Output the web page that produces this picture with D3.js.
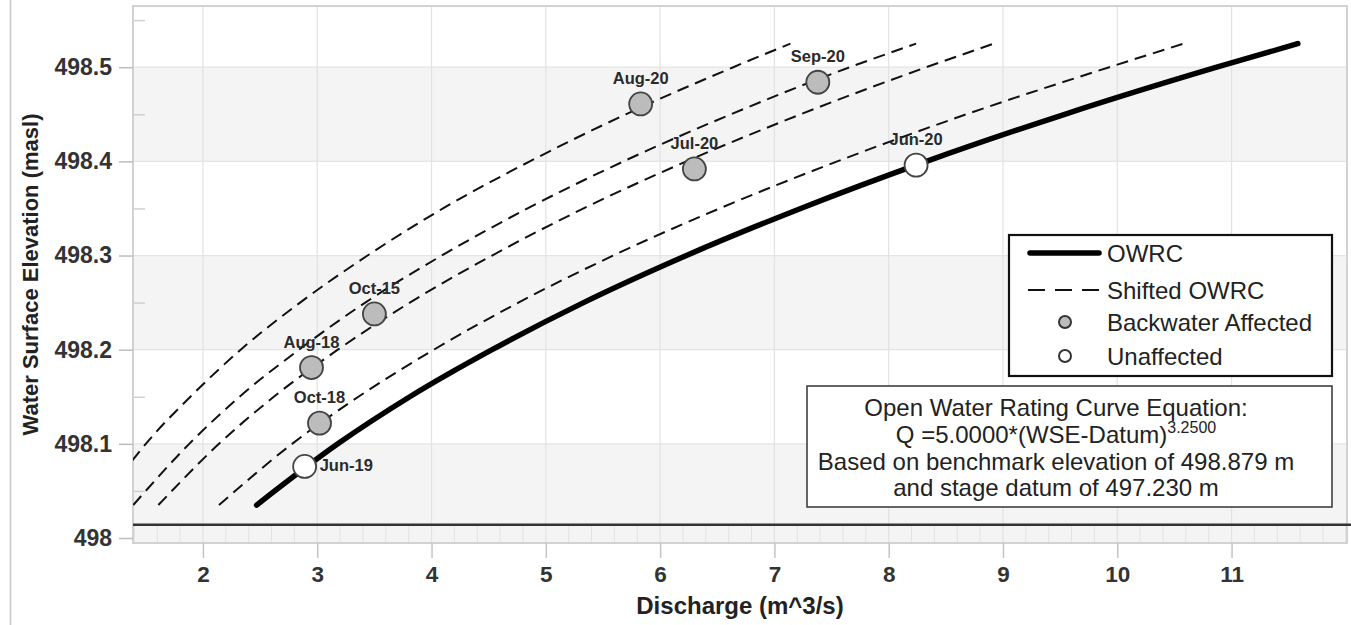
<!DOCTYPE html>
<html><head><meta charset="utf-8">
<script src="https://cdn.jsdelivr.net/npm/d3@7/dist/d3.min.js"></script>
<style>
html,body{margin:0;padding:0;background:#fff;}
svg{display:block;font-family:"Liberation Sans",Arial,sans-serif;}
</style></head>
<body><svg id="c" width="1351" height="625"></svg>
<script>
// ---- data ----
const xTicks = [2,3,4,5,6,7,8,9,10,11];
const yTicks = [498,498.1,498.2,498.3,498.4,498.5];
const yMinorTicks = [498.05,498.15,498.25,498.35,498.45,498.55];
const bandStarts = [498.0,498.2,498.4];           // grey bands 0.1 high
const baseLineWSE = 498.014;                        // dark horizontal line

const owrcWSE = [498.035,498.10,498.15,498.20,498.25,498.30,498.35,498.40,498.45,498.50,498.525];
const owrcQ   = [2.47,3.18,3.81,4.53,5.33,6.23,7.23,8.33,9.54,10.87,11.58];

const shiftWSE = [498.035,498.10,498.15,498.20,498.25,498.30,498.35,498.40,498.45,498.50,498.525];
const shiftBQ  = [1.39,1.88,2.32,2.84,3.42,4.09,4.84,5.68,6.62,7.66,8.24];
const shiftCQ  = [1.61,2.14,2.62,3.18,3.81,4.53,5.33,6.23,7.23,8.33,8.92];
const shiftDQ  = [2.14,2.78,3.36,4.02,4.76,5.59,6.52,7.55,8.68,9.93,10.58];
const shiftAWSE = [498.082,498.10,498.15,498.20,498.25,498.30,498.35,498.40,498.45,498.50,498.525];
const shiftAQ   = [1.38,1.50,1.89,2.33,2.85,3.44,4.10,4.86,5.70,6.64,7.14];

const pointLabels = ["Aug-20","Sep-20","Jul-20","Jun-20","Oct-15","Aug-18","Oct-18","Jun-19"];
const pointQ      = [5.83,7.38,6.30,8.24,3.50,2.95,3.02,2.89];
const pointWSE    = [498.461,498.484,498.392,498.396,498.238,498.181,498.122,498.076];
const pointType   = ["Backwater Affected","Backwater Affected","Backwater Affected","Unaffected","Backwater Affected","Backwater Affected","Backwater Affected","Unaffected"];
const labelSide   = ["top","top","top","top","top","top","top","right"];

const legendItems = ["OWRC","Shifted OWRC","Backwater Affected","Unaffected"];
const eqLines = ["Open Water Rating Curve Equation:","Q =5.0000*(WSE-Datum)","Based on benchmark elevation of 498.879 m","and stage datum of 497.230 m"];
const eqExponent = "3.2500";

// ---- layout ----
const L=133, R=1347, T=6, B=543;
const svg = d3.select("#c");
const x = d3.scaleLinear().domain([1.388,12.01]).range([L,R]);
const y = d3.scaleLinear().domain([497.9947,498.565]).range([B,T]);
const FONT = '"Liberation Sans",Arial,sans-serif';

svg.append("rect").attr("width",1351).attr("height",625).attr("fill","#fff");
svg.append("line").attr("x1",10.5).attr("x2",10.5).attr("y1",0).attr("y2",625).attr("stroke","#c8c8c8").attr("stroke-width",1.5);

const defs = svg.append("defs");
defs.append("clipPath").attr("id","clip").append("rect").attr("x",L).attr("y",T).attr("width",R-L).attr("height",B-T);

// bands
svg.append("g").selectAll("rect").data(bandStarts).join("rect")
  .attr("x",L).attr("width",R-L)
  .attr("y",d=>y(d+0.1)).attr("height",d=>y(d)-y(d+0.1))
  .attr("fill","#f4f4f4");
svg.append("rect").attr("x",L).attr("width",R-L).attr("y",y(498)).attr("height",B-y(498)).attr("fill","#f4f4f4");

// horizontal gridlines
svg.append("g").selectAll("line").data(yTicks.filter(d=>d>498)).join("line")
  .attr("x1",L).attr("x2",R).attr("y1",d=>y(d)).attr("y2",d=>y(d))
  .attr("stroke","#e4e4e4").attr("stroke-width",1.2);
// vertical gridlines
svg.append("g").selectAll("line").data(xTicks).join("line")
  .attr("x1",d=>x(d)).attr("x2",d=>x(d)).attr("y1",T).attr("y2",B)
  .attr("stroke","#e2e2e2").attr("stroke-width",1.2);
// minor x ticks inside bottom
const xMinor = d3.range(14,121,2).map(v=>v/10).filter(v=>!xTicks.includes(v));
svg.append("g").selectAll("line").data(xMinor).join("line")
  .attr("x1",d=>x(d)).attr("x2",d=>x(d)).attr("y1",y(baseLineWSE)).attr("y2",B)
  .attr("stroke","#e2e2e2").attr("stroke-width",1);

// plot frame
svg.append("rect").attr("x",L).attr("y",T).attr("width",R-L).attr("height",B-T)
  .attr("fill","none").attr("stroke","#d2d2d2").attr("stroke-width",2);

// axes
const yAxis = d3.axisLeft(y).tickValues(yTicks).tickSize(14).tickPadding(7)
  .tickFormat(d=> d===498 ? "498" : d3.format(".1f")(d));
const gy = svg.append("g").attr("transform",`translate(${L},0)`).call(yAxis);
gy.select(".domain").remove();
gy.selectAll(".tick line").attr("stroke","#bdbdbd").attr("stroke-width",1.5);
gy.selectAll(".tick text").attr("font-family",FONT).attr("font-size",23).attr("font-weight","bold").attr("fill","#333");

const yMinor = d3.axisRight(y).tickValues(yMinorTicks).tickSize(12).tickFormat("");
const gym = svg.append("g").attr("transform",`translate(${L},0)`).call(yMinor);
gym.select(".domain").remove();
gym.selectAll(".tick line").attr("stroke","#d0d0d0").attr("stroke-width",1.5);

const xAxis = d3.axisBottom(x).tickValues(xTicks).tickSize(15).tickPadding(8).tickFormat(d3.format("d"));
const gx = svg.append("g").attr("transform",`translate(0,${B})`).call(xAxis);
gx.select(".domain").remove();
gx.selectAll(".tick line").attr("stroke","#c4c4c4").attr("stroke-width",1.5);
gx.selectAll(".tick text").attr("font-family",FONT).attr("font-size",22.5).attr("font-weight","bold").attr("fill","#333");

// axis titles
svg.append("text").attr("transform",`translate(38,${(T+B)/2}) rotate(-90)`)
  .attr("text-anchor","middle").attr("font-family",FONT).attr("font-size",22).attr("font-weight","bold").attr("fill","#222")
  .text("Water Surface Elevation (masl)");
svg.append("text").attr("x",740).attr("y",614).attr("text-anchor","middle")
  .attr("font-family",FONT).attr("font-size",24).attr("font-weight","bold").attr("fill","#222")
  .text("Discharge (m^3/s)");

// dark base line
svg.append("line").attr("x1",L).attr("x2",1351).attr("y1",y(baseLineWSE)).attr("y2",y(baseLineWSE))
  .attr("stroke","#333").attr("stroke-width",2.5);

// curves
const plot = svg.append("g").attr("clip-path","url(#clip)");
const line = d3.line().x(d=>x(d[0])).y(d=>y(d[1])).curve(d3.curveMonotoneX);
const shiftedSets = [
  d3.zip(shiftAQ,shiftAWSE),
  d3.zip(shiftBQ,shiftWSE),
  d3.zip(shiftCQ,shiftWSE),
  d3.zip(shiftDQ,shiftWSE)
];
plot.selectAll("path.shift").data(shiftedSets).join("path").attr("class","shift")
  .attr("d",line).attr("fill","none").attr("stroke","#111").attr("stroke-width",2)
  .attr("stroke-dasharray","12,7");
plot.append("path").datum(d3.zip(owrcQ,owrcWSE)).attr("d",line)
  .attr("fill","none").attr("stroke","#000").attr("stroke-width",5.5).attr("stroke-linecap","round");

// points
const pts = d3.range(pointLabels.length).map(i=>({label:pointLabels[i],q:pointQ[i],w:pointWSE[i],t:pointType[i],s:labelSide[i]}));
svg.append("g").selectAll("circle").data(pts).join("circle")
  .attr("cx",d=>x(d.q)).attr("cy",d=>y(d.w)).attr("r",11.5)
  .attr("fill",d=>d.t==="Unaffected"?"#fff":"#bcbcbc")
  .attr("stroke","#444").attr("stroke-width",1.8);
svg.append("g").selectAll("text").data(pts).join("text")
  .attr("x",d=> d.s==="right" ? x(d.q)+15 : x(d.q))
  .attr("y",d=> d.s==="right" ? y(d.w)+5 : y(d.w)-20)
  .attr("text-anchor",d=> d.s==="right" ? "start" : "middle")
  .attr("font-family",FONT).attr("font-size",16.5).attr("font-weight","bold").attr("fill","#2b2b2b")
  .text(d=>d.label);

// legend
const lg = svg.append("g");
lg.append("rect").attr("x",1009).attr("y",235).attr("width",323).attr("height",141)
  .attr("fill","#fff").attr("stroke","#111").attr("stroke-width",2.2);
const rowY = [253,290,322,356];
lg.append("line").attr("x1",1030).attr("x2",1099).attr("y1",rowY[0]).attr("y2",rowY[0])
  .attr("stroke","#000").attr("stroke-width",5.5).attr("stroke-linecap","round");
lg.append("line").attr("x1",1028).attr("x2",1101).attr("y1",rowY[1]).attr("y2",rowY[1])
  .attr("stroke","#111").attr("stroke-width",2).attr("stroke-dasharray","17,10");
lg.append("circle").attr("cx",1065).attr("cy",rowY[2]).attr("r",6).attr("fill","#bcbcbc").attr("stroke","#333").attr("stroke-width",2);
lg.append("circle").attr("cx",1065).attr("cy",rowY[3]).attr("r",6).attr("fill","#fff").attr("stroke","#333").attr("stroke-width",2);
lg.selectAll("text").data(legendItems).join("text")
  .attr("x",1107).attr("y",(d,i)=>rowY[i]+8.5)
  .attr("font-family",FONT).attr("font-size",24).attr("fill","#222").text(d=>d);

// equation box
const eq = svg.append("g");
eq.append("rect").attr("x",807).attr("y",386).attr("width",525).attr("height",121)
  .attr("fill","#fff").attr("stroke","#333").attr("stroke-width",1.5);
const eqY = [416,443,470,496];
eqLines.forEach((t,i)=>{
  const tx = eq.append("text").attr("x",1056).attr("y",eqY[i]).attr("text-anchor","middle")
    .attr("font-family",FONT).attr("font-size",24).attr("fill","#222");
  tx.append("tspan").text(t);
  if(i===1){ tx.append("tspan").attr("dy",-10).attr("font-size",16).text(eqExponent); }
});
</script></body></html>
